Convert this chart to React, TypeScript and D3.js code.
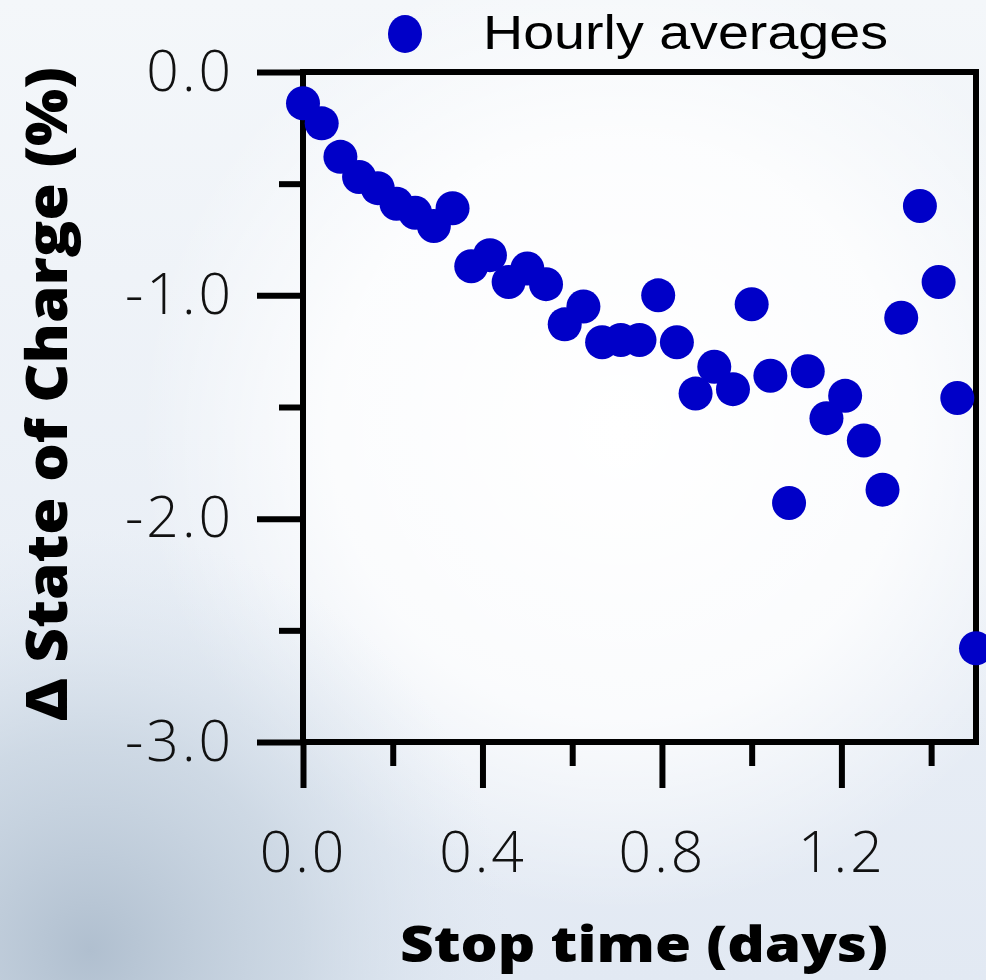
import React, { useRef, useEffect } from 'react';
import * as d3 from 'd3';

// stop time in hours (one point per hourly average)
const HOURS = [0, 1, 2, 3, 4, 5, 6, 7, 8, 9, 10, 11, 12, 13, 14, 15, 16, 17, 18, 19, 20, 21, 22, 23, 24, 25, 26, 27, 28, 29, 30, 31, 32, 33, 34, 35, 36];
const DELTA_SOC = [
    -0.14, -0.23, -0.38, -0.47, -0.52, -0.59, -0.63, -0.69, -0.61, -0.87,
    -0.82, -0.94, -0.88, -0.95, -1.13, -1.05, -1.21, -1.20, -1.20, -1.00,
    -1.21, -1.44, -1.32, -1.42, -1.04, -1.36, -1.93, -1.34, -1.55, -1.45,
    -1.65, -1.87, -1.10, -0.60, -0.94, -1.46, -2.58
];

const X_MAJOR = [0, 0.4, 0.8, 1.2];
const X_MINOR = [0.2, 0.6, 1.0, 1.4];
const Y_MAJOR = [0, -1, -2, -3];
const Y_MINOR = [-0.5, -1.5, -2.5];

const LEGEND_LABEL = "Hourly averages";
const X_TITLE = "Stop time (days)";
const Y_TITLE = "Δ State of Charge (%)";

const W = 986;
const H = 980;
const margin = { top: 72, left: 303 };
const POINT_COLOR = "#0000c8";
const TICK_FONT = "'Open Sans', Lato, sans-serif";
const TITLE_FONT = "'Open Sans', Lato, sans-serif";

// plain hyphen instead of d3's unicode minus, like the original
const fmt = (d) => d3.format(".1f")(d).replace("−", "-");

function App() {
    const svgRef = useRef(null);

    useEffect(() => {
        const svg = d3.select(svgRef.current);
        svg.selectAll("*").remove();

        // background
        const defs = svg.append("defs");
        const lin = defs.append("linearGradient").attr("id", "bgLin")
            .attr("x1", 0).attr("y1", 0).attr("x2", 0).attr("y2", 1);
        lin.append("stop").attr("offset", "0%").attr("stop-color", "#f4f7fa");
        lin.append("stop").attr("offset", "100%").attr("stop-color", "#e2e9f3");
        const glow = defs.append("radialGradient").attr("id", "bgGlow")
            .attr("gradientUnits", "userSpaceOnUse")
            .attr("cx", 620).attr("cy", 430).attr("r", 480);
        glow.append("stop").attr("offset", "0%").attr("stop-color", "#ffffff").attr("stop-opacity", 1);
        glow.append("stop").attr("offset", "60%").attr("stop-color", "#ffffff").attr("stop-opacity", 0.8);
        glow.append("stop").attr("offset", "100%").attr("stop-color", "#ffffff").attr("stop-opacity", 0);
        const dark = defs.append("radialGradient").attr("id", "bgDark")
            .attr("gradientUnits", "userSpaceOnUse")
            .attr("cx", 90).attr("cy", 950).attr("r", 420);
        dark.append("stop").attr("offset", "0%").attr("stop-color", "#b0bfcf").attr("stop-opacity", 1);
        dark.append("stop").attr("offset", "50%").attr("stop-color", "#c4d1de").attr("stop-opacity", 0.7);
        dark.append("stop").attr("offset", "100%").attr("stop-color", "#dbe5ef").attr("stop-opacity", 0);

        svg.append("rect").attr("width", W).attr("height", H).attr("fill", "url(#bgLin)");
        svg.append("rect").attr("width", W).attr("height", H).attr("fill", "url(#bgGlow)");
        svg.append("rect").attr("width", W).attr("height", H).attr("fill", "url(#bgDark)");

        const g = svg.append("g").attr("transform", `translate(${margin.left}, ${margin.top})`);

        const xScale = d3.scaleLinear().domain([0, 1.5]).range([0, 673]);
        const yScale = d3.scaleLinear().domain([-3, 0]).range([670, 0]);

        // axes
        const xAxis = g.append("g").attr("transform", `translate(0, ${yScale(-3)})`)
            .call(d3.axisBottom(xScale).tickValues(X_MAJOR).tickSize(46).tickSizeOuter(0).tickPadding(44).tickFormat(fmt));
        g.append("g").attr("transform", `translate(0, ${yScale(-3)})`)
            .call(d3.axisBottom(xScale).tickValues(X_MINOR).tickSize(24).tickSizeOuter(0).tickFormat(() => ""));
        const yAxis = g.append("g")
            .call(d3.axisLeft(yScale).tickValues(Y_MAJOR).tickSize(46).tickSizeOuter(0).tickPadding(23).tickFormat(fmt));
        g.append("g")
            .call(d3.axisLeft(yScale).tickValues(Y_MINOR).tickSize(24).tickSizeOuter(0).tickFormat(() => ""));

        g.selectAll(".domain").remove();
        g.selectAll(".tick line").attr("stroke", "#000").attr("stroke-width", 6);
        [xAxis, yAxis].forEach(ax => ax.selectAll("text")
            .attr("fill", "#111")
            .style("font-family", TICK_FONT)
            .style("font-weight", 300)
            .style("letter-spacing", "3px")
            .style("font-size", "57px"));

        // frame
        g.append("rect")
            .attr("x", xScale(0)).attr("y", yScale(0))
            .attr("width", xScale(1.5) - xScale(0)).attr("height", yScale(-3) - yScale(0))
            .attr("fill", "none").attr("stroke", "#000").attr("stroke-width", 6);

        // points
        g.selectAll("circle.pt")
            .data(HOURS.map((h, i) => ({ x: h / 24, y: DELTA_SOC[i] })))
            .enter()
            .append("circle")
            .attr("class", "pt")
            .attr("cx", d => xScale(d.x))
            .attr("cy", d => yScale(d.y))
            .attr("r", 17)
            .attr("fill", POINT_COLOR);

        // titles
        svg.append("text")
            .attr("x", 644).attr("y", 962)
            .attr("text-anchor", "middle")
            .attr("textLength", 488).attr("lengthAdjust", "spacingAndGlyphs")
            .style("font-family", TITLE_FONT).style("font-weight", 800).style("font-size", "50px")
            .attr("fill", "#000")
            .text(X_TITLE);
        svg.append("text")
            .attr("transform", "translate(67, 394) rotate(-90)")
            .attr("text-anchor", "middle")
            .attr("textLength", 654).attr("lengthAdjust", "spacingAndGlyphs")
            .style("font-family", TITLE_FONT).style("font-weight", 800).style("font-size", "56px")
            .attr("fill", "#000")
            .text(Y_TITLE);

        // legend
        svg.append("ellipse").attr("cx", 405).attr("cy", 34).attr("rx", 17).attr("ry", 19).attr("fill", POINT_COLOR);
        svg.append("text")
            .attr("x", 483).attr("y", 49)
            .attr("textLength", 405).attr("lengthAdjust", "spacingAndGlyphs")
            .style("font-family", "'Liberation Sans', Arial, sans-serif").style("font-size", "48px")
            .attr("fill", "#000")
            .text(LEGEND_LABEL);
    }, []);

    return (
        <svg
            ref={svgRef}
            width={W}
            height={H}
            style={{ position: "absolute", left: 0, top: 0, display: "block" }}
        />
    );
}

export default App;
